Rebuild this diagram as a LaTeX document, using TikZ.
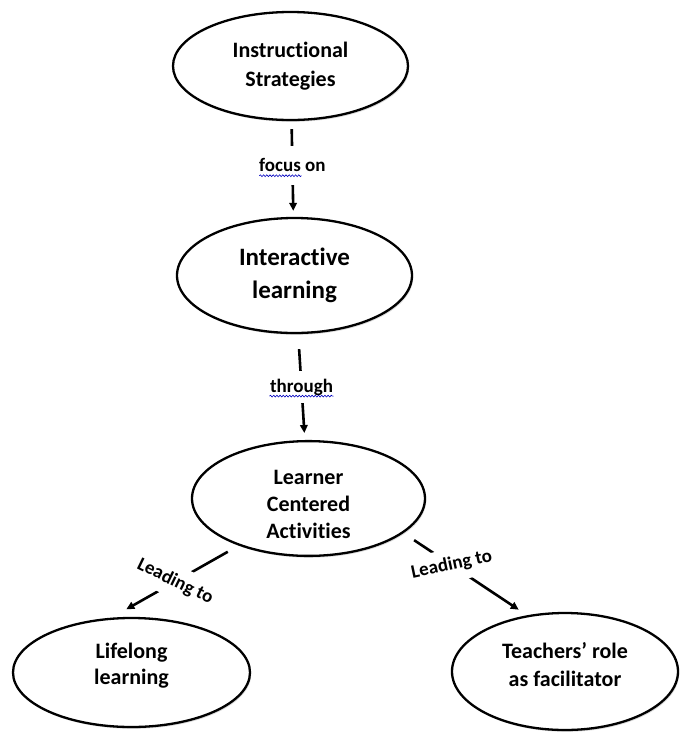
\documentclass[tikz,border=0pt]{standalone}
\usepackage{fontspec}
\setmainfont{Carlito}[Ligatures=NoCommon]
\usetikzlibrary{shapes.geometric,arrows.meta,shadows,decorations.pathmorphing,calc}
\begin{document}
\begin{tikzpicture}[x=1pt,y=-1pt,
  concept/.style={ellipse, draw=black, line width=2.3pt, fill=white, align=center,
    font=\bfseries\fontsize{22}{29}\selectfont, inner sep=0pt,
    drop shadow={shadow xshift=1.2pt, shadow yshift=-1.8pt, opacity=0.3}},
  bigconcept/.style={concept, font=\bfseries\fontsize{25}{33}\selectfont},
  link/.style={line width=2.6pt, draw=black},
  tip/.style={-{Triangle[length=8pt,width=7.5pt]}},
  linklabel/.style={fill=white, font=\bfseries\fontsize{19}{22}\selectfont, inner xsep=2pt},
  squig/.style={draw=blue!75!black, line width=0.6pt, decorate,
    decoration={snake, amplitude=0.9pt, segment length=3.2pt}}
]
\useasboundingbox (0,0) rectangle (680,732);

\node[concept, minimum width=235pt, minimum height=108pt] (e1) at (290.5,66) {Instructional\\Strategies};
\node[bigconcept, minimum width=235pt, minimum height=115pt] (e2) at (294.5,275.5) {Interactive\\learning};
\node[concept, minimum width=233pt, minimum height=113pt, font=\bfseries\fontsize{22}{27}\selectfont, text height=81pt] (e3) at (308.5,498.5) {Learner\\Centered\\Activities};
\node[concept, minimum width=237pt, minimum height=109pt, font=\bfseries\fontsize{22}{26}\selectfont, text depth=17pt] (e4) at (131.5,672.5) {Lifelong\\learning};
\node[concept, minimum width=226pt, minimum height=117pt, font=\bfseries\fontsize{22}{28}\selectfont, text depth=15pt] (e5) at (565,671.5) {Teachers’ role\\as facilitator};

\draw[link, tip, shorten <=8pt, shorten >=6pt] (e1) -- node[linklabel, pos=0.46, inner ysep=13pt] (l1) {focus on} (e2);
\draw[link, tip, shorten <=15pt, shorten >=7pt] (e2) -- node[linklabel, pos=0.5, inner ysep=8pt] (l2) {through} (e3);
\draw[link, tip, shorten <=12.5pt, shorten >=17pt] (e3.214) -- node[linklabel, pos=0.5, rotate=-26, inner ysep=8pt] (l3) {Leading to} (e4.110);
\draw[link, tip, shorten <=12.8pt, shorten >=10pt] (e3.-20) -- node[linklabel, pos=0.39, rotate=12, inner ysep=8pt] (l4) {Leading to} (e5.124);

\draw[squig] ($(l1.base)+(-33,4)$) -- ($(l1.base)+(9,4)$);
\draw[squig] ($(l2.base)+(-32,4)$) -- ($(l2.base)+(32,4)$);
\end{tikzpicture}
\end{document}
